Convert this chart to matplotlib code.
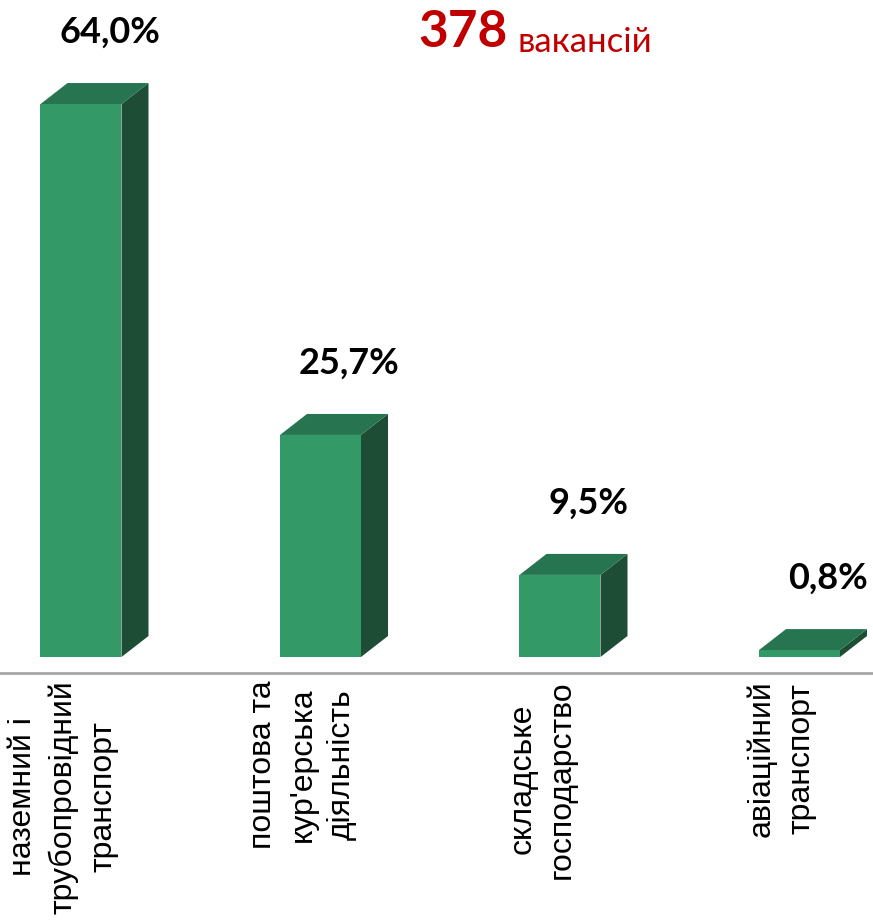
import matplotlib
matplotlib.use("Agg")
import matplotlib.pyplot as plt
from matplotlib.patches import Polygon

categories = ["наземний і\nтрубопровідний\nтранспорт",
              "поштова та\nкур'ерська\nдіяльність",
              "складське\nгосподарство",
              "авіаційний\nтранспорт"]
values = [64.0, 25.7, 9.5, 0.8]
value_labels = ["64,0%", "25,7%", "9,5%", "0,8%"]
total_count = "378"
total_word = "вакансій"

W, H, DPI = 873, 924, 100
fig = plt.figure(figsize=(W / DPI, H / DPI), dpi=DPI)

# axes geometry (pixels)
ax_bottom_px = H - 673
ax_h_px = 673
ax = fig.add_axes([0, ax_bottom_px / H, 1, ax_h_px / H])

px_per_unit_y = 8.64
spacing_px = 239.5
first_center_px = 81
xmin = -first_center_px / spacing_px
xmax = (W - first_center_px) / spacing_px
ymin = -16 / px_per_unit_y
ymax = ymin + ax_h_px / px_per_unit_y
ax.set_xlim(xmin, xmax)
ax.set_ylim(ymin, ymax)

# depth offsets converted into data units
dx = 27 * (xmax - xmin) / W
dy = 21 * (ymax - ymin) / ax_h_px
bw = 81 * (xmax - xmin) / W

front_c = "#339966"
top_c = "#277550"
side_c = "#1e4d36"

for i, v in enumerate(values):
    x0, x1 = i - bw / 2, i + bw / 2
    ax.add_patch(Polygon([(x0, 0), (x1, 0), (x1, v), (x0, v)], closed=True,
                         facecolor=front_c, edgecolor="none"))
    ax.add_patch(Polygon([(x1, 0), (x1 + dx, dy), (x1 + dx, v + dy), (x1, v)],
                         closed=True, facecolor=side_c, edgecolor="none"))
    ax.add_patch(Polygon([(x0, v), (x1, v), (x1 + dx, v + dy), (x0 + dx, v + dy)],
                         closed=True, facecolor=top_c, edgecolor="none"))
    ax.annotate(value_labels[i], xy=(i, v), xytext=(29, 55),
                textcoords="offset pixels", ha="center", va="bottom",
                fontsize=26, fontweight="bold", family="Lato", color="black")
    ax.annotate(categories[i], xy=(i, 0), xycoords=("data", "axes fraction"),
                xytext=(-18, -7), textcoords="offset pixels",
                rotation=90, ha="center", va="top", multialignment="center",
                fontsize=23, family="Liberation Sans", linespacing=1.42,
                color="black", annotation_clip=False)

for s in ["top", "right", "left"]:
    ax.spines[s].set_visible(False)
ax.spines["bottom"].set_color("#a6a6a6")
ax.spines["bottom"].set_linewidth(2)
ax.set_xticks([])
ax.set_yticks([])
ax.patch.set_alpha(0)

fig.text(508 / W, 1 - 47 / H, total_count, ha="right", va="baseline",
         fontsize=37, fontweight="bold", family="Lato", color="#c00000")
fig.text(517 / W, 1 - 52 / H, total_word, ha="left", va="baseline",
         fontsize=25, family="Lato", color="#c00000")

fig.savefig("out.png", dpi=DPI, facecolor="white")
